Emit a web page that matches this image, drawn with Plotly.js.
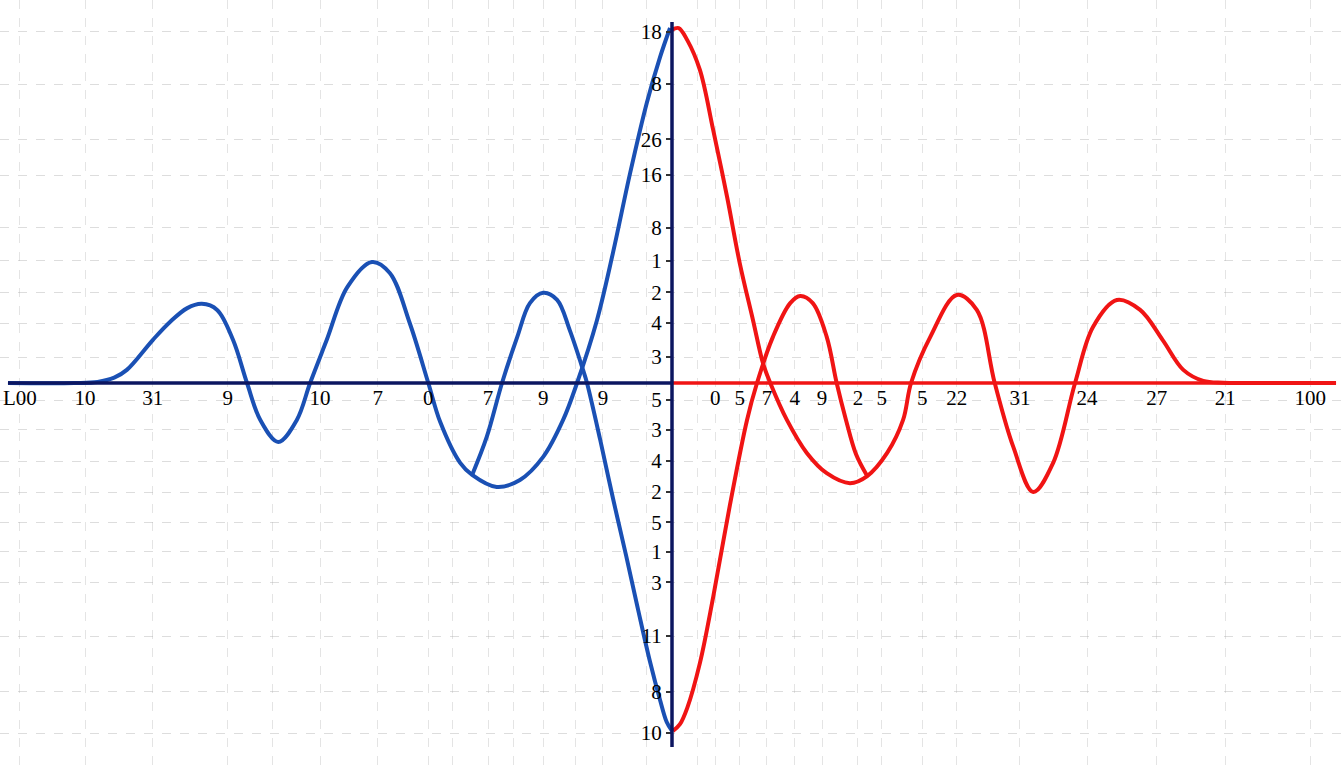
<!DOCTYPE html>
<html>
<head>
<meta charset="utf-8">
<script src="https://cdn.plot.ly/plotly-3.0.1.min.js"></script>
<style>html,body{margin:0;padding:0;background:#fff;}#chart{width:1344px;height:768px;}</style>
</head>
<body>
<div id="chart"></div>
<script>
// Blue series: main curve (from left edge up to the top peak) and its branch (kink to bottom)
const blueMainX = [-100, -90.0, -86.5, -84.0, -82.1, -78.2, -75.6, -73.0, -70.8, -68.5, -66.1, -64.0, -62.0, -59.3, -56.5, -54.5, -52.0, -48.9, -45.2, -42.5, -39.5, -36.7, -34.9, -31.9, -30.1, -26.4, -22.9, -19.4, -16.4, -14.3, -11.3, -8.9, -6.3, -3.8, -1.8, -0.3];
const blueMainY = [0, 0, 0.3, 1.5, 3.7, 12.1, 17.2, 21.1, 22.3, 20.6, 12.1, 0, -10.4, -16.6, -10.4, 0, 12.1, 27.0, 34.1, 31.0, 16.9, 0, -11.0, -22.5, -25.9, -29.3, -27.3, -20.8, -10.4, 0, 17.7, 36.6, 59.2, 78.9, 91.8, 100];
const blueBranchX = [-30.1, -27.9, -25.6, -23.3, -21.4, -19.4, -17.3, -15.4, -13.4, -12.8, -10.8, -8.9, -6.9, -5.1, -3.3, -1.8, -0.8, 0];
const blueBranchY = [-25.9, -15.2, 0, 13.0, 22.5, 25.4, 23.4, 14.9, 3.7, 0, -16.1, -32.4, -48.7, -63.9, -78.6, -89.3, -95.5, -98.0];

// Red series: main curve (from top peak to right edge) and its branch (bottom to kink)
const redMainX = [0, 1.0, 2.3, 4.2, 6.2, 8.3, 10.2, 12.2, 13.7, 14.8, 17.3, 20.3, 23.3, 26.8, 29.4, 32.4, 34.8, 36.0, 38.9, 42.9, 45.9, 48.6, 51.4, 54.4, 57.4, 60.7, 63.4, 67.0, 70.5, 73.9, 77.0, 80.0, 83.0, 86.0, 100];
const redMainY = [99.5, 100, 96.6, 88.2, 71.3, 52.4, 33.8, 17.7, 5.6, 0, -10.4, -19.7, -25.4, -28.2, -26.2, -19.7, -10.4, 0, 13.0, 24.8, 20.6, 0, -18.0, -30.7, -22.5, 0, 15.8, 23.4, 20.6, 12.1, 3.7, 0.6, 0.1, 0, 0];
const redBranchX = [0.15, 1.2, 2.3, 4.2, 6.2, 8.7, 11.3, 12.8, 15.2, 17.8, 19.3, 21.2, 23.3, 24.8, 26.2, 27.7, 29.4];
const redBranchY = [-98.0, -96.1, -91.5, -78.9, -60.3, -34.6, -10.4, 0, 13.0, 22.5, 24.5, 22.5, 13.0, 0, -10.4, -20.0, -26.2];

// Tick labels
const xTickVals = [-98.2, -88.4, -78.2, -66.9, -53.0, -44.3, -36.7, -27.7, -19.4, -10.4, 6.5, 10.2, 14.3, 18.5, 22.6, 28.0, 31.6, 37.7, 42.9, 52.4, 62.5, 73.0, 83.3, 96.1];
const xTickText = ["L00", "10", "31", "9", "10", "7", "0", "7", "9", "9", "0", "5", "7", "4", "9", "2", "5", "5", "22", "31", "24", "27", "21", "100"];
const xGridOnly = [-60.2, -33.1, -23.9, -14.6, -3.8, 3.8];
const yTickVals = [98.9, 84.2, 68.7, 58.6, 43.7, 34.4, 25.6, 16.9, 7.3, -4.8, -13.2, -22.0, -30.7, -39.2, -47.6, -56.1, -71.3, -87.0, -98.6];
const yTickText = ["18", "8", "26", "16", "8", "1", "2", "4", "3", "5", "3", "4", "2", "5", "1", "3", "11", "8", "10"];

const BLUE = '#1a50b4';
const RED = '#f01414';
const NAVY = '#0c1660';

function line(x, y, color) {
  return {x: x, y: y, type: 'scatter', mode: 'lines', hoverinfo: 'skip',
          line: {color: color, width: 4, shape: 'spline', smoothing: 1}, showlegend: false};
}

const traces = [
  line(blueMainX, blueMainY, BLUE),
  line(blueBranchX, blueBranchY, BLUE),
  line(redMainX, redMainY, RED),
  line(redBranchX, redBranchY, RED)
];

const allXVals = xTickVals.concat(xGridOnly);
const allXText = xTickText.concat(xGridOnly.map(() => ''));

const layout = {
  width: 1344, height: 768,
  margin: {l: 0, r: 0, t: 0, b: 0},
  paper_bgcolor: '#ffffff', plot_bgcolor: '#ffffff',
  showlegend: false,
  xaxis: {
    range: [-101.2, 101.2], anchor: 'free', position: 0.5013,
    tickmode: 'array', tickvals: allXVals, ticktext: allXText,
    ticks: '', showline: false, zeroline: false,
    showgrid: true, gridcolor: 'rgba(170,170,170,0.32)', griddash: 'dash', gridwidth: 1,
    tickfont: {family: 'Liberation Serif, serif', size: 21, color: '#000'}
  },
  yaxis: {
    range: [-108.45, 107.9], anchor: 'free', position: 0.5, side: 'left',
    tickmode: 'array', tickvals: yTickVals, ticktext: yTickText,
    ticks: 'outside', ticklen: 6, tickwidth: 1.5, tickcolor: '#333',
    showline: false, zeroline: false,
    showgrid: true, gridcolor: 'rgba(170,170,170,0.4)', griddash: 'dash', gridwidth: 1,
    tickfont: {family: 'Liberation Serif, serif', size: 21, color: '#000'}
  },
  shapes: [
    {type: 'line', xref: 'x', yref: 'y', x0: -100, x1: 0, y0: 0, y1: 0, line: {color: NAVY, width: 3.5}, layer: 'above'},
    {type: 'line', xref: 'x', yref: 'y', x0: 0, x1: 100, y0: 0, y1: 0, line: {color: RED, width: 3.5}, layer: 'above'},
    {type: 'line', xref: 'x', yref: 'y', x0: 0, x1: 0, y0: -102.5, y1: 101.7, line: {color: NAVY, width: 3.5}, layer: 'above'}
  ]
};

Plotly.newPlot('chart', traces, layout, {displayModeBar: false, staticPlot: true});
</script>
</body>
</html>
